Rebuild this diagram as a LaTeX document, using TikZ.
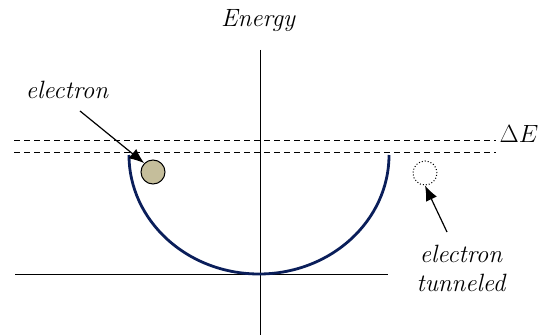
\documentclass[tikz,border=0pt]{standalone}
\usetikzlibrary{arrows.meta,calc}
\definecolor{wellblue}{RGB}{10,30,90}
\definecolor{ballfill}{RGB}{197,190,155}
\tikzset{
  axis/.style={line width=1pt},
  level/.style={line width=1pt, dash pattern=on 6pt off 4pt},
  well/.style={line width=2.8pt, color=wellblue},
  lbl/.style={font=\fontsize{25}{29}\selectfont\itshape, inner sep=0pt},
  ball/.style={circle, minimum size=24pt, inner sep=0pt, line width=1pt},
  pointer/.style={-{Latex[length=15pt,width=12pt]}, line width=1.2pt},
}

\begin{document}
\begin{tikzpicture}[x=1pt,y=1pt]
  \useasboundingbox (0,0) rectangle (541,335);

  % axes
  \coordinate (Et) at (260,285);
  \coordinate (Eb) at (260,0);
  \coordinate (Hl) at (15,61);
  \coordinate (Hr) at (388,61);
  \draw[axis] (Et) -- (Eb);
  \draw[axis] (Hl) -- (Hr);

  % energy levels (Delta E band)
  \coordinate (U1) at (14,194);
  \coordinate (U2) at (496,194);
  \coordinate (L1) at (14,182);
  \coordinate (L2) at (496,182);
  \draw[level] (U1) -- (U2);
  \draw[level] (L1) -- (L2);

  % potential well
  \draw[well] (129,180) arc[start angle=180, end angle=360, x radius=130, y radius=119];

  % electrons
  \node[ball, draw, fill=ballfill] (e1) at (153,163) {};
  \node[ball, draw, dotted] (e2) at (425,162) {};

  % labels
  \node[lbl] (Lenergy) at (258,314) {Energy};
  \node[lbl] (Lel) at (67,245) {electron};
  \node[lbl, font=\fontsize{25}{29}\selectfont] (LdE) at (519,201) {$\Delta E$};
  \node[lbl, align=center] (Ltun) at (461,67) {electron\\tunneled};

  % pointers
  \draw[pointer] (80,224) -- (e1.north west);
  \draw[pointer] (447,103) -- (e2.south);
\end{tikzpicture}
\end{document}
